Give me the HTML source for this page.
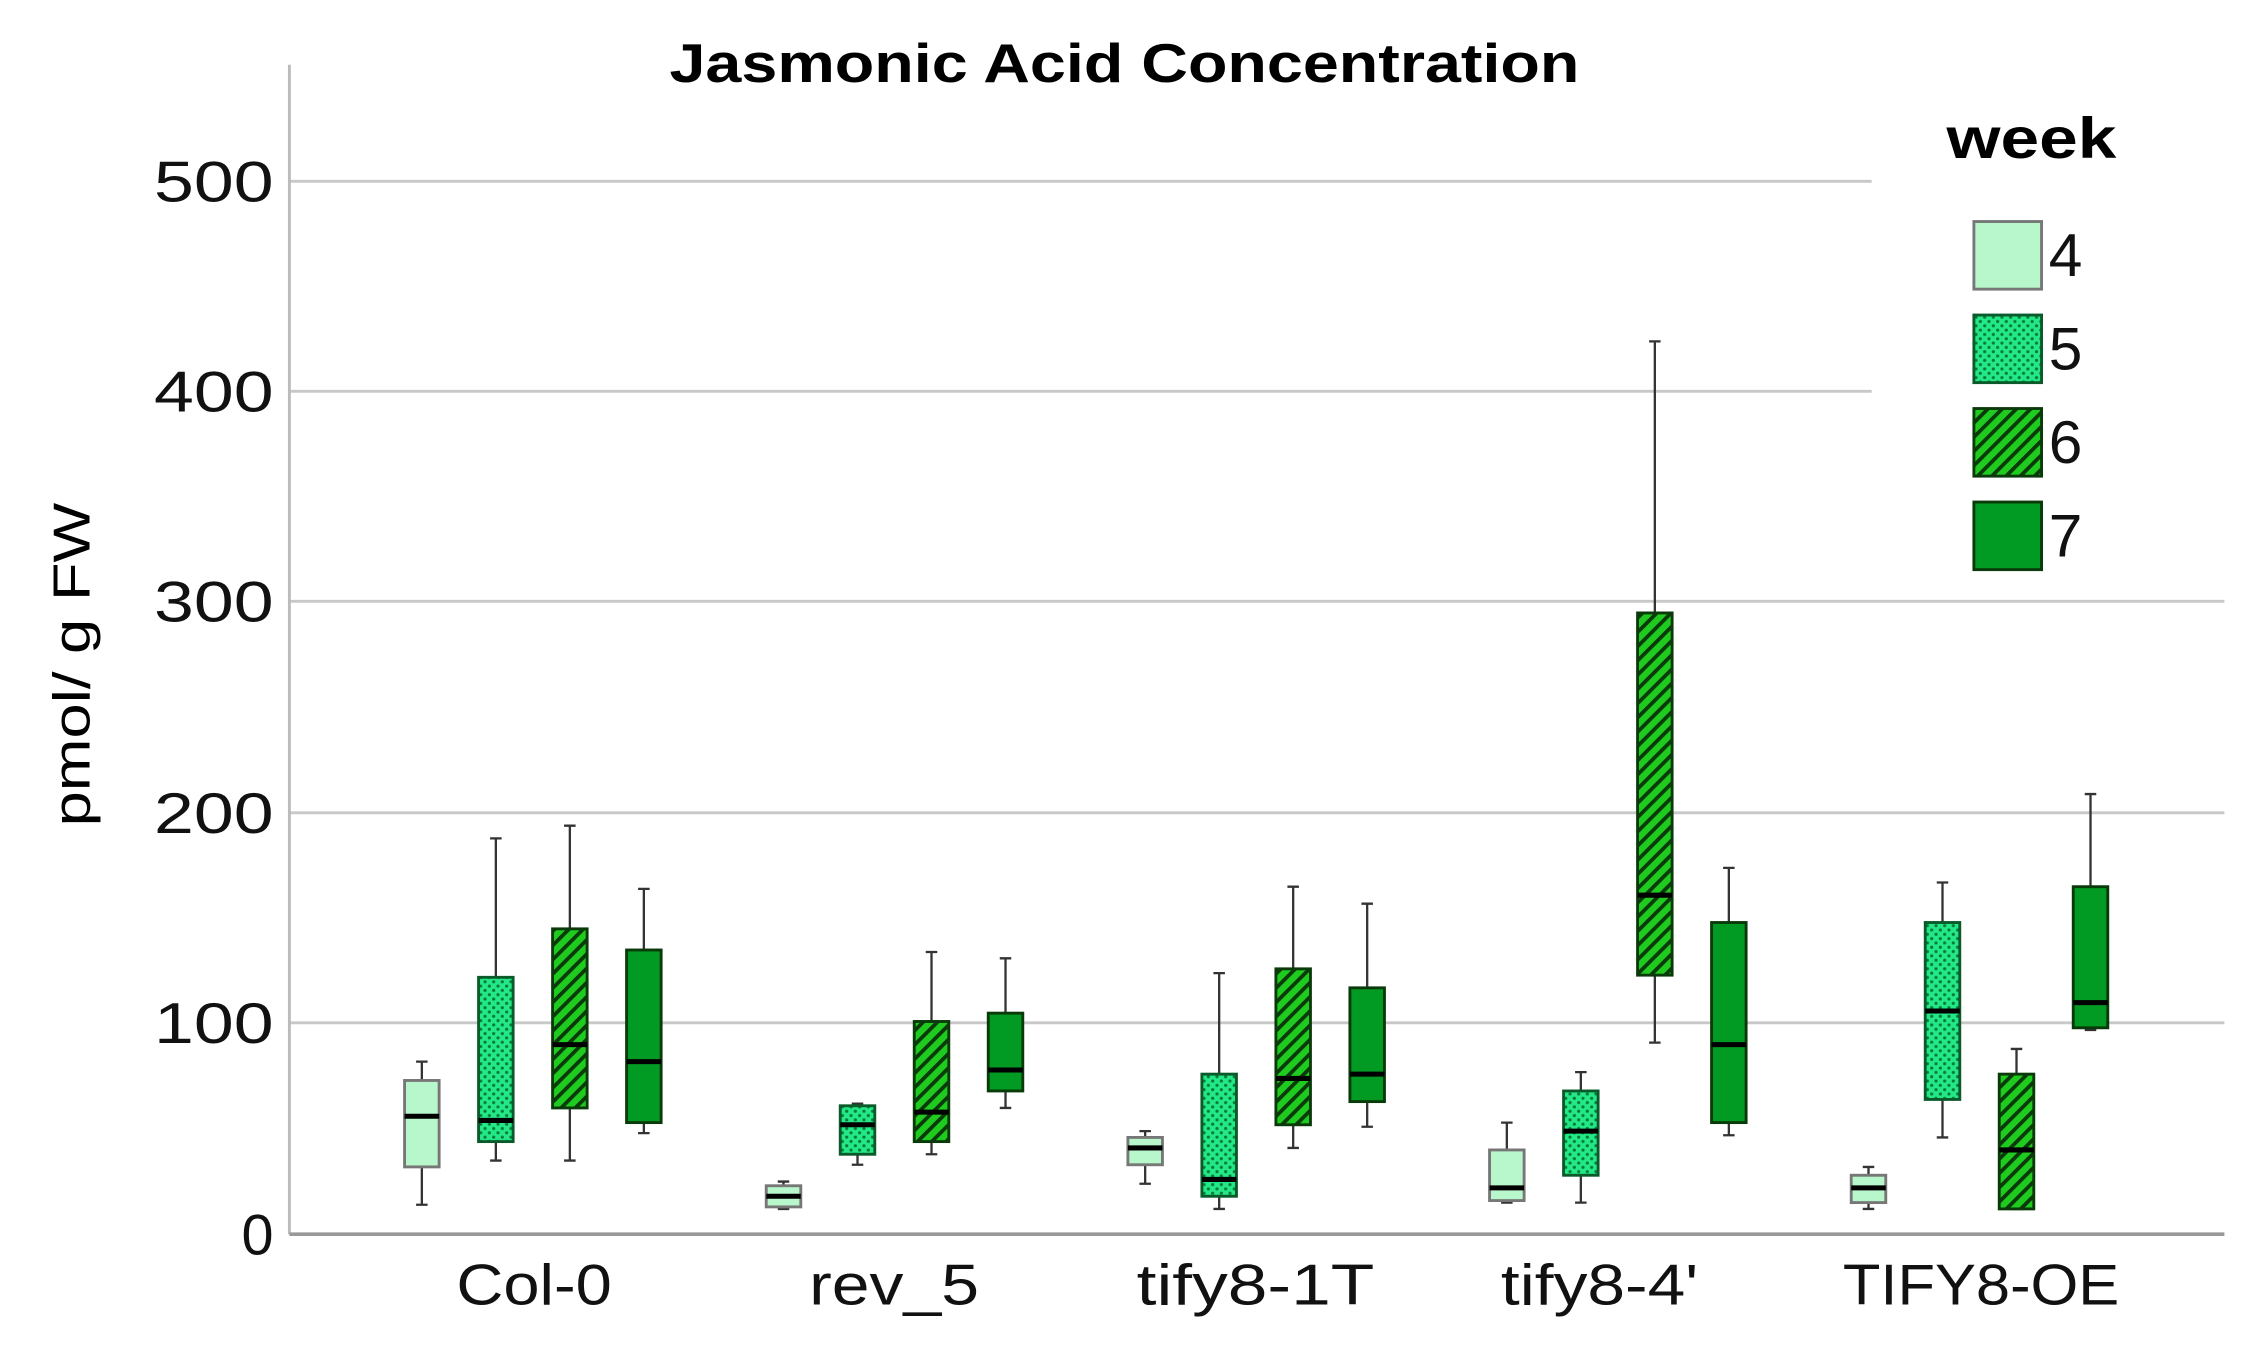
<!DOCTYPE html>
<html><head><meta charset="utf-8"><style>html,body{margin:0;padding:0;background:#fff}svg{display:block}
.wh{stroke:#333;stroke-width:1.6;fill:none}
.md{stroke:#000;stroke-width:3.5}
.b0{fill:#b8f7cc;stroke:#777;stroke-width:2}
.b1{fill:url(#dots);stroke:#0a5a2a;stroke-width:2}
.b2{fill:url(#hatch);stroke:#0a3a0a;stroke-width:2}
.b3{fill:#019a22;stroke:#0a3a0a;stroke-width:2}
</style></head>
<body>
<svg width="2246" height="1345" viewBox="0 0 1560 935" preserveAspectRatio="none" xmlns="http://www.w3.org/2000/svg" font-family="'Liberation Sans', sans-serif">
<defs>
<pattern id="dots" width="6" height="6" patternUnits="userSpaceOnUse">
<rect width="6" height="6" fill="#22e887"/><circle cx="1.5" cy="1.5" r="1.1" fill="#0a7a3a"/><circle cx="4.5" cy="4.5" r="1.1" fill="#0a7a3a"/>
</pattern>
<pattern id="hatch" width="7" height="7" patternUnits="userSpaceOnUse" patternTransform="rotate(45)">
<rect width="7" height="7" fill="#1ecb1e"/><rect width="2.6" height="7" fill="#0a3a0a"/>
</pattern>
</defs>
<rect width="1560" height="935" fill="#fff"/>
<g stroke="#c8c8c8" stroke-width="2">
<line x1="201" y1="126" x2="1300" y2="126"/>
<line x1="201" y1="272" x2="1300" y2="272"/>
<line x1="201" y1="418" x2="1545" y2="418"/>
<line x1="201" y1="565" x2="1545" y2="565"/>
<line x1="201" y1="711" x2="1545" y2="711"/>
</g>
<line x1="201" y1="45" x2="201" y2="858" stroke="#bbb" stroke-width="2"/>
<line x1="201" y1="858" x2="1545" y2="858" stroke="#999" stroke-width="2.5"/>
<text x="781" y="57" font-size="38" font-weight="bold" text-anchor="middle" textLength="632" lengthAdjust="spacingAndGlyphs">Jasmonic Acid Concentration</text>
<g font-size="40" text-anchor="end" fill="#111">
<text x="190" y="140" textLength="83" lengthAdjust="spacingAndGlyphs">500</text>
<text x="190" y="286" textLength="83" lengthAdjust="spacingAndGlyphs">400</text>
<text x="190" y="432" textLength="83" lengthAdjust="spacingAndGlyphs">300</text>
<text x="190" y="579" textLength="83" lengthAdjust="spacingAndGlyphs">200</text>
<text x="190" y="725" textLength="83" lengthAdjust="spacingAndGlyphs">100</text>
<text x="190" y="872">0</text>
</g>
<text transform="translate(62,462) rotate(-90)" font-size="36" text-anchor="middle" textLength="225" lengthAdjust="spacingAndGlyphs">pmol/ g FW</text>
<g font-size="40" text-anchor="middle" fill="#111">
<text x="371" y="907" textLength="108" lengthAdjust="spacingAndGlyphs">Col-0</text>
<text x="621" y="907" textLength="118" lengthAdjust="spacingAndGlyphs">rev_5</text>
<text x="872" y="907" textLength="165" lengthAdjust="spacingAndGlyphs">tify8-1T</text>
<text x="1111" y="907" textLength="137" lengthAdjust="spacingAndGlyphs">tify8-4'</text>
<text x="1376" y="907" textLength="192" lengthAdjust="spacingAndGlyphs">TIFY8-OE</text>
</g>
<text x="1411" y="110" font-size="40" font-weight="bold" text-anchor="middle" textLength="118" lengthAdjust="spacingAndGlyphs">week</text>
<rect x="1371" y="154" width="47" height="47" class="b0"/>
<rect x="1371" y="219" width="47" height="47" class="b1"/>
<rect x="1371" y="284" width="47" height="47" class="b2"/>
<rect x="1371" y="349" width="47" height="47" class="b3"/>
<g font-size="42" fill="#111">
<text x="1423" y="192">4</text><text x="1423" y="257">5</text><text x="1423" y="322">6</text><text x="1423" y="387">7</text>
</g>

<g transform="translate(293,0)"><path class="wh" d="M0 837.5V738M-4 837.5H4M-4 738H4"/><rect class="b0" x="-12" y="751.1" width="24" height="60.1"/><path class="md" d="M-12 776H12"/></g>
<g transform="translate(344.4,0)"><path class="wh" d="M0 806.8V582.8M-4 806.8H4M-4 582.8H4"/><rect class="b1" x="-12" y="679.4" width="24" height="114.2"/><path class="md" d="M-12 778.9H12"/></g>
<g transform="translate(395.8,0)"><path class="wh" d="M0 806.8V574M-4 806.8H4M-4 574H4"/><rect class="b2" x="-12" y="645.7" width="24" height="124.5"/><path class="md" d="M-12 726.2H12"/></g>
<g transform="translate(447.2,0)"><path class="wh" d="M0 787.7V617.9M-4 787.7H4M-4 617.9H4"/><rect class="b3" x="-12" y="660.4" width="24" height="120"/><path class="md" d="M-12 738H12"/></g>

<g transform="translate(544.2,0)"><path class="wh" d="M0 840.4V821.4M-4 840.4H4M-4 821.4H4"/><rect class="b0" x="-12" y="824.3" width="24" height="14.7"/><path class="md" d="M-12 831.6H12"/></g>
<g transform="translate(595.6,0)"><path class="wh" d="M0 809.7V767.2M-4 809.7H4M-4 767.2H4"/><rect class="b1" x="-12" y="768.7" width="24" height="33.7"/><path class="md" d="M-12 781.9H12"/></g>
<g transform="translate(647,0)"><path class="wh" d="M0 802.4V661.8M-4 802.4H4M-4 661.8H4"/><rect class="b2" x="-12" y="710.1" width="24" height="83.5"/><path class="md" d="M-12 773.1H12"/></g>
<g transform="translate(698.4,0)"><path class="wh" d="M0 770.2V666.2M-4 770.2H4M-4 666.2H4"/><rect class="b3" x="-12" y="704.3" width="24" height="54.1"/><path class="md" d="M-12 743.8H12"/></g>

<g transform="translate(795.4,0)"><path class="wh" d="M0 822.9V786.3M-4 822.9H4M-4 786.3H4"/><rect class="b0" x="-12" y="790.7" width="24" height="19"/><path class="md" d="M-12 798H12"/></g>
<g transform="translate(846.8,0)"><path class="wh" d="M0 840.4V676.5M-4 840.4H4M-4 676.5H4"/><rect class="b1" x="-12" y="746.7" width="24" height="84.9"/><path class="md" d="M-12 819.9H12"/></g>
<g transform="translate(898.2,0)"><path class="wh" d="M0 798V616.4M-4 798H4M-4 616.4H4"/><rect class="b2" x="-12" y="673.5" width="24" height="108.4"/><path class="md" d="M-12 749.7H12"/></g>
<g transform="translate(949.6,0)"><path class="wh" d="M0 783.3V628.2M-4 783.3H4M-4 628.2H4"/><rect class="b3" x="-12" y="686.7" width="24" height="79.1"/><path class="md" d="M-12 746.7H12"/></g>

<g transform="translate(1046.6,0)"><path class="wh" d="M0 836V780.4M-4 836H4M-4 780.4H4"/><rect class="b0" x="-12" y="799.4" width="24" height="35.2"/><path class="md" d="M-12 825.8H12"/></g>
<g transform="translate(1098,0)"><path class="wh" d="M0 836V745.3M-4 836H4M-4 745.3H4"/><rect class="b1" x="-12" y="758.4" width="24" height="58.6"/><path class="md" d="M-12 786.3H12"/></g>
<g transform="translate(1149.4,0)"><path class="wh" d="M0 724.8V237.3M-4 724.8H4M-4 237.3H4"/><rect class="b2" x="-12" y="426.1" width="24" height="251.8"/><path class="md" d="M-12 622.3H12"/></g>
<g transform="translate(1200.8,0)"><path class="wh" d="M0 789.2V603.3M-4 789.2H4M-4 603.3H4"/><rect class="b3" x="-12" y="641.3" width="24" height="139.1"/><path class="md" d="M-12 726.2H12"/></g>

<g transform="translate(1297.8,0)"><path class="wh" d="M0 840.4V811.2M-4 840.4H4M-4 811.2H4"/><rect class="b0" x="-12" y="817" width="24" height="19"/><path class="md" d="M-12 825.8H12"/></g>
<g transform="translate(1349.2,0)"><path class="wh" d="M0 790.7V613.5M-4 790.7H4M-4 613.5H4"/><rect class="b1" x="-12" y="641.3" width="24" height="123"/><path class="md" d="M-12 702.8H12"/></g>
<g transform="translate(1400.6,0)"><path class="wh" d="M0 840.4V729.2M-4 840.4H4M-4 729.2H4"/><rect class="b2" x="-12" y="746.7" width="24" height="93.7"/><path class="md" d="M-12 799.4H12"/></g>
<g transform="translate(1452,0)"><path class="wh" d="M0 716V552M-4 716H4M-4 552H4"/><rect class="b3" x="-12" y="616.4" width="24" height="98.1"/><path class="md" d="M-12 697H12"/></g>
</svg>
</body></html>
